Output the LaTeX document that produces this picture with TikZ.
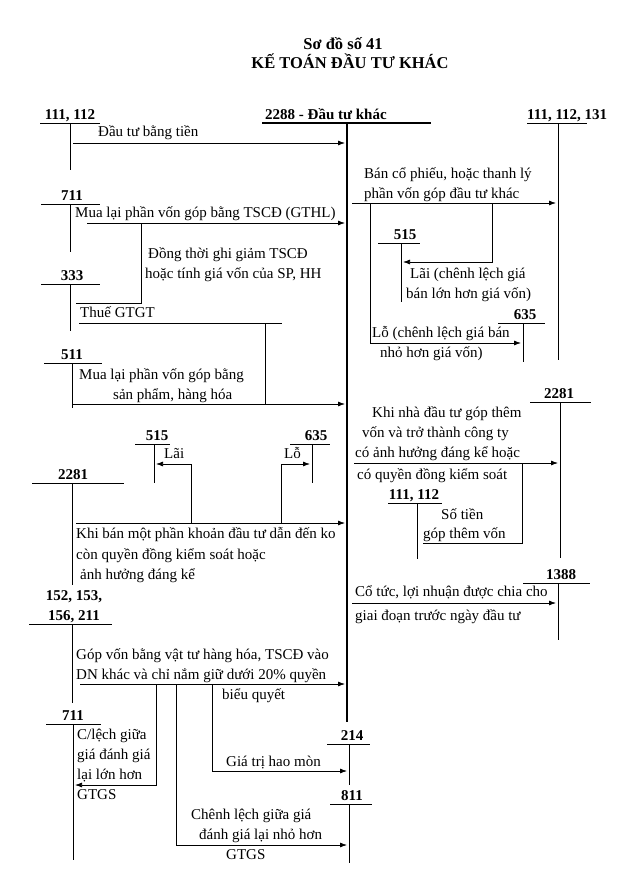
\documentclass[tikz,border=0pt]{standalone}
\usepackage{fontspec}
\setmainfont{Liberation Serif}
\usetikzlibrary{arrows.meta}
\newcommand\TAcct[8]{% #1 name, #2 label centre x, #3 line y, #4 x1, #5 x2, #6 vertical x, #7 vertical bottom y, #8 label
  \node[lbl] (#1) at (#2,#3-3.5) {#8};
  \draw[ln] (#4,#3) -- (#5,#3);
  \coordinate (#1top) at (#6,#3);
  \coordinate (#1bot) at (#6,#7);
  \draw[ln] (#1top) -- (#1bot);}
\begin{document}
\begin{tikzpicture}[x=1pt,y=-1pt,
  ln/.style={line width=0.75pt},
  arr/.style={ln,-{Latex[length=7pt,width=5pt]}},
  txt/.style={anchor=west,inner sep=0pt,text height=10pt,text depth=3pt,font=\fontsize{15}{18}\selectfont},
  lbl/.style={anchor=base,inner sep=0pt,font=\bfseries\fontsize{15}{18}\selectfont},
  ttl/.style={anchor=base,inner sep=0pt,font=\bfseries\fontsize{16.5}{19}\selectfont}]
\useasboundingbox[fill=white] (0,0) rectangle (638,891);

% title
\node[ttl] (title1) at (343,49) {Sơ đồ số 41};
\node[ttl] (title2) at (350,68.5) {KẾ TOÁN ĐẦU TƯ KHÁC};

% main account 2288
\node[lbl,anchor=base west] (a2288) at (265,119.5) {2288 - Đầu tư khác};
\draw[line width=1.1pt] (262,123) -- (431,123);
\coordinate (m2288top) at (347,123);
\coordinate (m2288bot) at (347,722);
\draw[line width=1.4pt] (m2288top) -- (m2288bot);

% ---------- upper left ----------
\TAcct{a111}{70}{123}{40}{100}{70}{170}{111, 112}
\node[txt] (t1) at (98,133) {Đầu tư bằng tiền};
\draw[arr] (73,143) -- (345,143);

\TAcct{a711t}{72}{204}{41}{100}{70}{252}{711}
\node[txt] (t2) at (75,214) {Mua lại phần vốn góp bằng TSCĐ (GTHL)};
\draw[arr] (87,223) -- (345,223);
\draw[ln] (141,223) -- (141,303) -- (76,303);
\node[txt] (t3a) at (148,255) {Đồng thời ghi giảm TSCĐ};
\node[txt] (t3b) at (145,275) {hoặc tính giá vốn của SP, HH};

\TAcct{a333}{72}{284}{41}{100}{70}{331}{333}
\node[txt] (t4) at (80,314) {Thuế GTGT};
\draw[ln] (79,323) -- (282,323);
\draw[ln] (265,323) -- (265,404);

\TAcct{a511}{72}{363}{44}{102}{72}{408}{511}
\node[txt] (t5a) at (79,376) {Mua lại phần vốn góp bằng};
\node[txt] (t5b) at (113,396) {sản phẩm, hàng hóa};
\draw[arr] (72,404) -- (345,404);

% ---------- upper right ----------
\TAcct{a111r}{581}{123}{527}{587}{558}{360}{}
\node[lbl,anchor=base west] (a111rl) at (527,119.5) {111, 112, 131};
\node[txt] (t6a) at (364,175) {Bán cổ phiếu, hoặc thanh lý};
\node[txt] (t6b) at (364,195) {phần vốn góp đầu tư khác};
\draw[arr] (352,203) -- (556,203);

\TAcct{a515r}{405}{243}{378}{420}{401}{302}{515}
\draw[arr] (492,203) -- (492,262) -- (403,262);
\node[txt] (t7a) at (410,275) {Lãi (chênh lệch giá};
\node[txt] (t7b) at (406,295) {bán lớn hơn giá vốn)};

\TAcct{a635r}{525}{323}{498}{545}{523}{362}{635}
\draw[arr] (370,203) -- (370,343) -- (521,343);
\node[txt] (t8a) at (372,334) {Lỗ (chênh lệch giá bán};
\node[txt] (t8b) at (380,354) {nhỏ hơn giá vốn)};

% ---------- middle left ----------
\TAcct{a515m}{157}{444}{135}{170}{154}{483}{515}
\TAcct{a635m}{316}{444}{290}{330}{312}{483}{635}
\TAcct{a2281l}{73}{483}{32}{124}{72}{585}{2281}
\draw[arr] (76,523) -- (345,523);
\draw[arr] (191,523) -- (191,464) -- (156,464);
\draw[arr] (281,523) -- (281,464) -- (310,464);
\node[txt] (t9l) at (164,455) {Lãi};
\node[txt] (t9r) at (284,455) {Lỗ};
\node[txt] (t10a) at (76,535) {Khi bán một phần khoản đầu tư dẫn đến ko};
\node[txt] (t10b) at (76,556) {còn quyền đồng kiểm soát hoặc};
\node[txt] (t10c) at (80,576) {ảnh hưởng đáng kể};

% ---------- middle right ----------
\TAcct{a2281r}{559}{402}{530}{591}{560}{558}{2281}
\node[txt] (t11a) at (372,414) {Khi nhà đầu tư góp thêm};
\node[txt] (t11b) at (362,434) {vốn và trở thành công ty};
\node[txt] (t11c) at (355,454) {có ảnh hưởng đáng kể hoặc};
\node[txt] (t11d) at (357,476) {có quyền đồng kiểm soát};
\draw[arr] (354,463) -- (558,463);
\TAcct{a111m}{414}{503}{388}{442}{417}{559}{111, 112}
\draw[ln] (522,463) -- (522,543) -- (423,543);
\node[txt] (t12a) at (441,516) {Số tiền};
\node[txt] (t12b) at (423,535) {góp thêm vốn};

\TAcct{a1388}{561}{583}{523}{590}{558}{640}{1388}
\node[txt] (t13a) at (355,593) {Cổ tức, lợi nhuận được chia cho};
\node[txt] (t13b) at (355,617) {giai đoạn trước ngày đầu tư};
\draw[arr] (352,603) -- (556,603);

% ---------- lower part ----------
\node[lbl] (a152a) at (74,600) {152, 153,};
\TAcct{a152}{74}{624}{29}{112}{72}{703}{156, 211}
\node[txt] (t14a) at (76,656) {Góp vốn bằng vật tư hàng hóa, TSCĐ vào};
\node[txt] (t14b) at (76,676) {DN khác và chỉ nắm giữ dưới 20\% quyền};
\node[txt] (t14c) at (222,696) {biểu quyết};
\draw[arr] (80,684) -- (345,684);

\TAcct{a711b}{73}{724}{46}{101}{73}{860}{711}
\draw[arr] (156,684) -- (156,785) -- (75,785);
\node[txt] (t15a) at (77,736) {C/lệch giữa};
\node[txt] (t15b) at (77,756) {giá đánh giá};
\node[txt] (t15c) at (77,776) {lại lớn hơn};
\node[txt] (t15d) at (77,796) {GTGS};

\TAcct{a214}{352}{744}{327}{370}{349}{785}{214}
\draw[arr] (212,684) -- (212,771) -- (347,771);
\node[txt] (t16) at (226,763) {Giá trị hao mòn};

\TAcct{a811}{352}{804}{330}{372}{349}{863}{811}
\draw[arr] (176,684) -- (176,845) -- (347,845);
\node[txt] (t17a) at (191,816) {Chênh lệch giữa giá};
\node[txt] (t17b) at (199,836) {đánh giá lại nhỏ hơn};
\node[txt] (t17c) at (226,856) {GTGS};
\end{tikzpicture}
\end{document}
